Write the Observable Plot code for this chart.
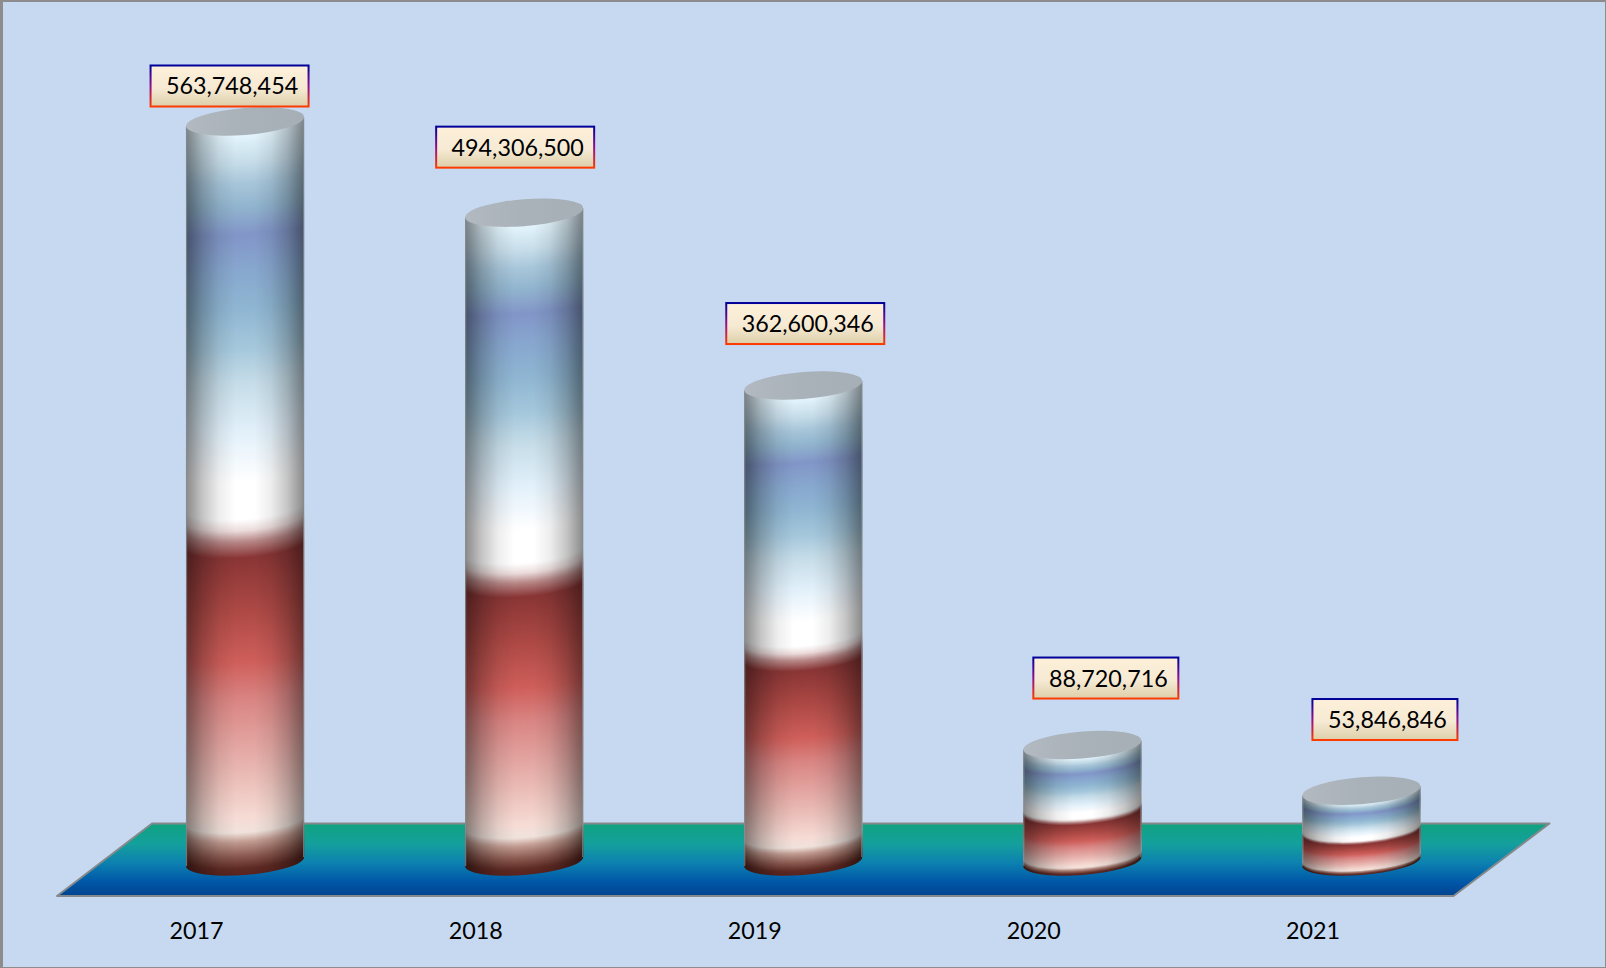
<!DOCTYPE html>
<html>
<head>
<meta charset="utf-8">
<script src="https://cdn.jsdelivr.net/npm/d3@7"></script>
<script src="https://cdn.jsdelivr.net/npm/@observablehq/plot@0.6"></script>
<style>
html,body{margin:0;padding:0;background:#c6d9f1;}
svg{display:block;}
</style>
</head>
<body>
<div id="chart"></div>
<script>
const years = ["2017", "2018", "2019", "2020", "2021"];
const values = [563748454, 494306500, 362600346, 88720716, 53846846];

// Where each label box was placed relative to the top of its cylinder
const labelShiftX = [-15.5, -9, 2, 23.5, 23.5];
const labelShiftY = [-35.5, -65.5, -62, -67, -71.3];

// Colour wrapped round the cylinder, from top (0) to bottom (1)
const wallStops = [
  [0, "#e4f5fd"], [0.04, "#c4dbe8"], [0.065, "#a8c6da"], [0.095, "#93b6cf"], [0.135, "#8296c8"],
  [0.185, "#88a8cf"], [0.235, "#8fb6d2"], [0.29, "#a6c8dc"], [0.335, "#c5dce8"],
  [0.402, "#e2f0fa"], [0.47, "#ffffff"], [0.52, "#ffffff"], [0.535, "#ecdcdc"],
  [0.55, "#b88888"], [0.572, "#8a3636"], [0.645, "#ae4a46"], [0.713, "#cf5f5b"],
  [0.763, "#d98583"], [0.855, "#e8b5b0"], [0.924, "#f6dcd5"], [0.943, "#f0e2dc"],
  [0.956, "#c09a90"], [0.975, "#8a5a50"], [0.992, "#5e2a24"], [1, "#5a2420"]
];
// How strongly the colour bands bow round the front of a tall cylinder
const bowFractions = [0, 0.1, 0.25, 0.45, 0.57, 0.72, 0.94, 1];
const bowDepths = [1, 0.15, 0.2, 1, 0.9, 0.5, 0.9, 1];

const rows = years.map((year, i) => ({
  year, value: values[i], label: d3.format(",")(values[i]),
  shiftX: labelShiftX[i], shiftY: labelShiftY[i]
}));

const wallColor = f => {
  let k = wallStops.findIndex(s => s[0] >= f);
  if (k <= 0) return wallStops[0][1];
  const [f0, c0] = wallStops[k - 1], [f1, c1] = wallStops[k];
  return d3.interpolateRgb(c0, c1)((f - f0) / (f1 - f0));
};
const bowDepth = d3.scaleLinear().domain(bowFractions).range(bowDepths);

const svgNS = "http://www.w3.org/2000/svg";
const make = (tag, attrs, parent) => {
  const e = document.createElementNS(svgNS, tag);
  for (const k in attrs) e.setAttribute(k, attrs[k]);
  if (parent) parent.appendChild(e);
  return e;
};
const gradient = (parent, id, stops, horizontal) => {
  const g = make("linearGradient", {id, x1: 0, y1: 0, x2: horizontal ? 1 : 0, y2: horizontal ? 0 : 1}, parent);
  for (const [o, c, a] of stops) make("stop", {offset: o, "stop-color": c, "stop-opacity": a ?? 1}, g);
};

const ry = 13.5, skew = -4.36;

function floorMark(index, scales) {
  const g = make("g", {});
  const defs = make("defs", {}, g);
  gradient(defs, "floorFill", [[0, "#10a280"], [0.28, "#14a09c"], [0.55, "#0c80b0"], [0.8, "#0058a8"], [1, "#00438f"]]);
  const y0 = scales.y(0), left = scales.x(years[0]), right = scales.x(years[years.length - 1]) + scales.x.bandwidth();
  const back = y0 - 38, front = y0 + 34.5;
  make("path", {
    d: `M${left - 34},${back}L${right + 129},${back}L${right + 33},${front}L${left - 129},${front}Z`,
    fill: "url(#floorFill)", stroke: "#84898c", "stroke-width": 2, "stroke-linejoin": "round"
  }, g);
  return g;
}

function cylinders(index, scales) {
  const root = make("g", {});
  const defs = make("defs", {}, root);
  gradient(defs, "wallShade", [
    [0, "#000", 0.46], [0.05, "#000", 0.38], [0.14, "#000", 0.23], [0.28, "#000", 0.07], [0.42, "#000", 0],
    [0.58, "#000", 0], [0.72, "#000", 0.07], [0.86, "#000", 0.23], [0.95, "#000", 0.38], [1, "#000", 0.46]
  ], true);
  gradient(defs, "capFill", [[0, "#b2b9c0"], [0.5, "#a9b1b9"], [1, "#a6aeb6"]], true);
  for (const i of index) {
    const d = rows[i];
    const rx = scales.x.bandwidth() / 2, cx = scales.x(d.year) + rx;
    const top = scales.y(d.value), bottom = scales.y(0), h = bottom - top;
    const g = make("g", {transform: `translate(${cx},0) skewY(${skew})`}, root);
    const steps = Math.ceil(h);
    const tall = Math.min(1, h / 500);
    const bow = f => ry * (1 - (1 - bowDepth(f)) * tall);
    for (let s = steps; s >= 0; s--) {
      const f = s / steps, b = bow(f);
      const front = top + ry + f * h, yf = front - b, yt = yf - h / steps - 1;
      make("path", {
        d: `M${-rx},${yt}A${rx},${b} 0 0 0 ${rx},${yt}L${rx},${yf}A${rx},${b} 0 0 1 ${-rx},${yf}Z`,
        fill: wallColor(f)
      }, g);
    }
    make("path", {
      d: `M${-rx},${top}L${rx},${top}L${rx},${bottom}A${rx},${ry} 0 0 1 ${-rx},${bottom}Z`,
      fill: "url(#wallShade)"
    }, g);
    make("path", {
      d: `M${-rx + 0.5},${top}L${-rx + 0.5},${bottom}M${rx - 0.5},${top}L${rx - 0.5},${bottom}`,
      fill: "none", stroke: "#858b8f", "stroke-width": 1.2, "stroke-opacity": 0.75
    }, g);
    make("ellipse", {cx: 0, cy: top, rx, ry, fill: "url(#capFill)"}, g);
  }
  return root;
}

function labelBoxes(index, scales, vals, dims, ctx, next) {
  const g = next(index, scales, vals, dims, ctx);
  g.removeAttribute("transform");
  const defs = make("defs", {}, g);
  gradient(defs, "boxFill", [[0, "#fef0d9"], [0.55, "#f6ead4"], [1, "#ddcfa9"]]);
  gradient(defs, "boxEdge", [[0, "#00009a"], [0.5, "#90108c"], [1, "#ff3a00"]]);
  g.querySelectorAll("text").forEach((t, k) => {
    const d = rows[index[k]];
    const x = scales.x(d.year) + scales.x.bandwidth() / 2 + d.shiftX;
    const y = scales.y(d.value) + d.shiftY;
    const w = d.label.length * 13 + 15, boxH = 41;
    t.setAttribute("transform", `translate(${x + 2.5},${y + 1})`);
    const rect = make("rect", {
      x: x - w / 2, y: y - boxH / 2, width: w, height: boxH,
      fill: "url(#boxFill)", stroke: "url(#boxEdge)", "stroke-width": 2
    });
    t.parentNode.insertBefore(rect, t);
  });
  return g;
}

const chart = Plot.plot({
  width: 1606,
  height: 968,
  margin: 0,
  style: {background: "#c6d9f1", fontFamily: "Lato", color: "#000"},
  x: {type: "band", domain: years, range: [25, 1581.5], padding: 0.577, round: false},
  y: {type: "linear", domain: [0, values[0]], range: [861.5, 121.5], axis: null},
  marks: [
    Plot.frame({stroke: "#8c8c8c", strokeWidth: 3, insetLeft: 1}),
    floorMark,
    Plot.barY(rows, {x: "year", y: "value", fill: "#8fb6d2", render: cylinders}),
    Plot.axisX({anchor: "bottom", tickSize: 0, tickPadding: 0, dx: -49, dy: -37, lineAnchor: "middle", fontSize: 23.3, label: null, fill: "#000"}),
    Plot.text(rows, {x: "year", y: "value", text: "label", fontSize: 23.3, fill: "#000", render: labelBoxes})
  ]
});
document.getElementById("chart").appendChild(chart);
</script>
</body>
</html>
